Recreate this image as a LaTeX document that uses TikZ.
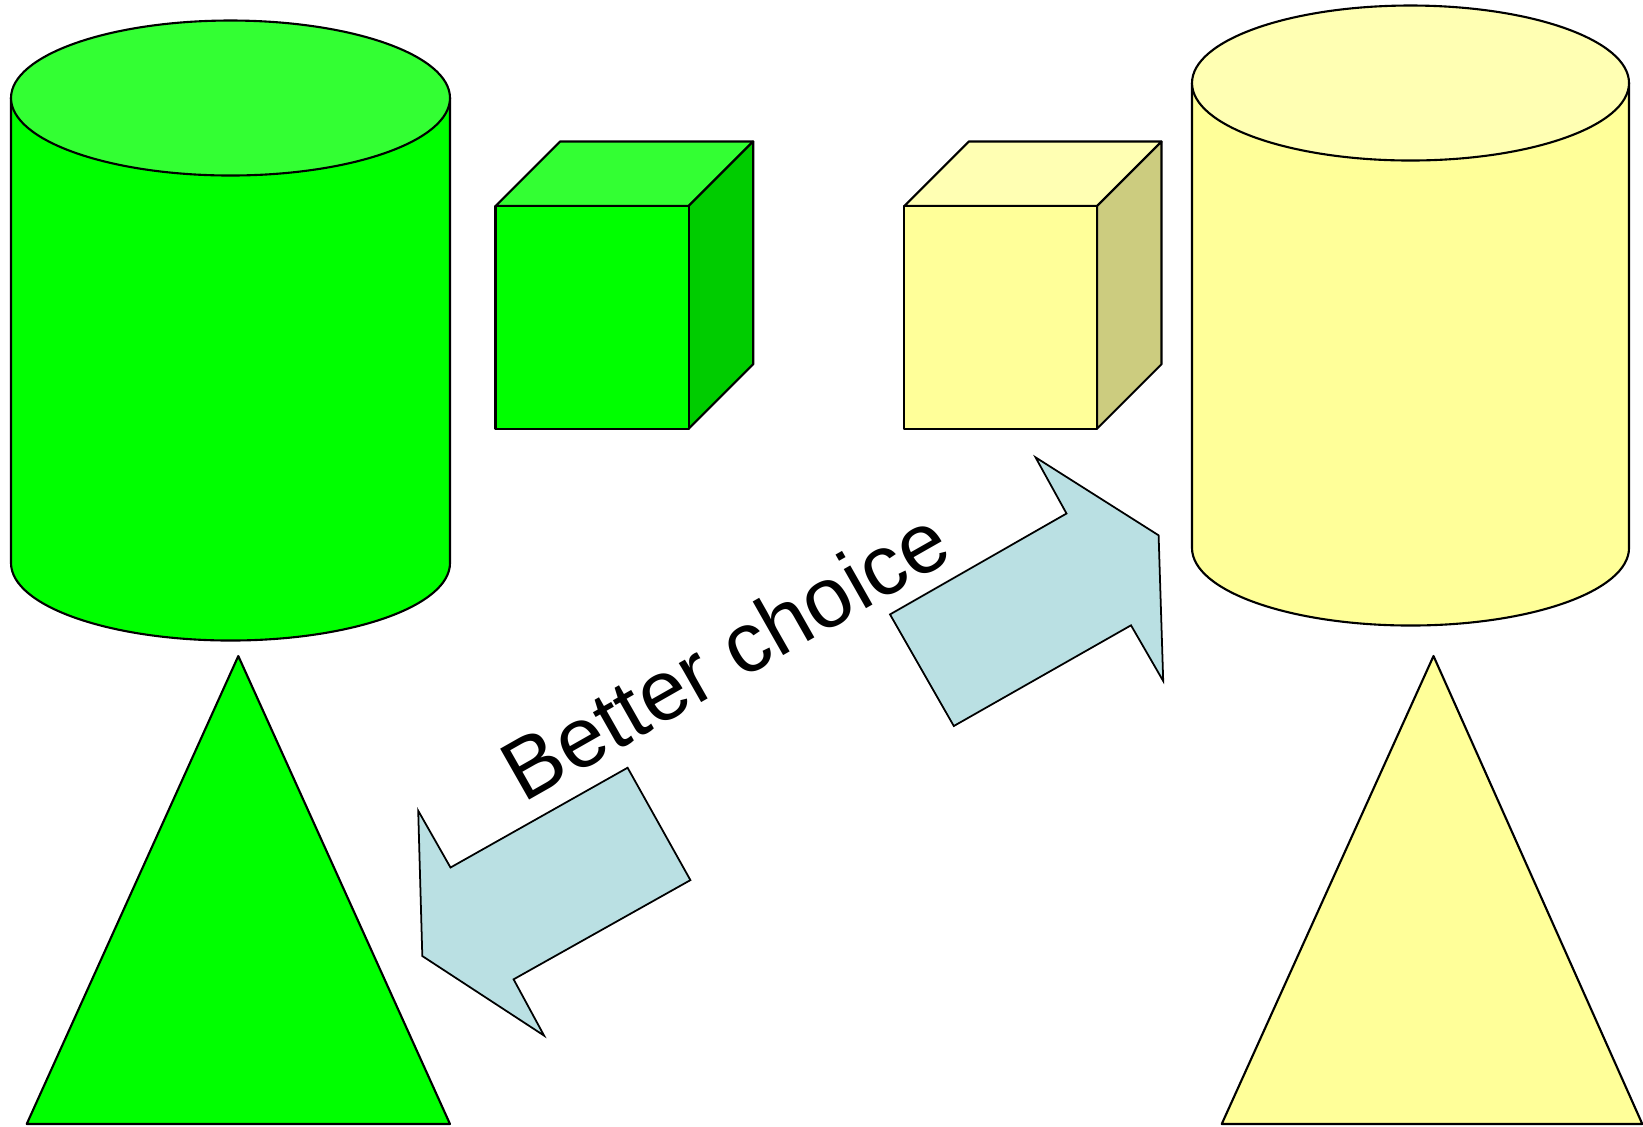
\documentclass[tikz,border=0pt]{standalone}
\usepackage{fontspec}
\setmainfont{Liberation Sans}
\usepackage{tikz}
\usepackage{xcolor}

\definecolor{grnside}{HTML}{00FF00}
\definecolor{grntop}{HTML}{33FF33}
\definecolor{grndark}{HTML}{00CC00}
\definecolor{ylwside}{HTML}{FFFF99}
\definecolor{ylwtop}{HTML}{FFFFB3}
\definecolor{ylwdark}{HTML}{CCCC7F}
\definecolor{arrowblue}{HTML}{BAE0E3}

\begin{document}
\begin{tikzpicture}[
    x=0.01cm, y=-0.01cm,
    line width=0.6pt,
    face/.style={draw=black, fill=#1, line join=round},
    face/.default=white,
    bigarrow/.style={draw=black, fill=arrowblue, line width=0.5pt, line join=miter}
]
    \useasboundingbox (0,0) rectangle (1643,1126);

    % Coordinates
    \coordinate (gcyl_tl) at (11, 98);
    \coordinate (gcyl_bl) at (11, 563);
    \coordinate (gcyl_top) at (230.5, 98);
    \coordinate (ycyl_tl) at (1192, 83);
    \coordinate (ycyl_bl) at (1192, 548);
    \coordinate (ycyl_top) at (1410.5, 83);

    \coordinate (gcube_a) at (495.5, 206);
    \coordinate (gcube_b) at (688.7, 206);
    \coordinate (gcube_c) at (688.7, 428.7);
    \coordinate (gcube_d) at (495.5, 428.7);
    \coordinate (ycube_a) at (904.3, 206);
    \coordinate (ycube_b) at (1097, 206);
    \coordinate (ycube_c) at (1097, 428.7);
    \coordinate (ycube_d) at (904.3, 428.7);

    % Green cylinder
    \draw[face=grnside] (gcyl_tl) -- (gcyl_bl) arc (180:0:219.5 and 77.5) -- (450, 98) -- cycle;
    \draw[face=grntop] (gcyl_top) ellipse (219.5 and 77.5);

    % Yellow cylinder
    \draw[face=ylwside] (ycyl_tl) -- (ycyl_bl) arc (180:0:218.5 and 77.5) -- (1629, 83) -- cycle;
    \draw[face=ylwtop] (ycyl_top) ellipse (218.5 and 77.5);

    % Green cube
    \draw[face=grntop] (gcube_a) -- ++(64.5,-64.5) -- ++(193.2,0) -- (gcube_b) -- cycle;
    \draw[face=grndark] (gcube_b) -- ++(64.5,-64.5) -- ++(0,222.7) -- (gcube_c) -- cycle;
    \draw[face=grnside] (gcube_a) rectangle (gcube_c);

    % Yellow cube
    \draw[face=ylwtop] (ycube_a) -- ++(64.5,-64.5) -- ++(192.7,0) -- (ycube_b) -- cycle;
    \draw[face=ylwdark] (ycube_b) -- ++(64.5,-64.5) -- ++(0,222.7) -- (ycube_c) -- cycle;
    \draw[face=ylwside] (ycube_a) rectangle (ycube_c);

    % Triangles
    \draw[face=grnside] (26.7, 1124) -- (238.3, 656) -- (450, 1124) -- cycle;
    \draw[face=ylwside] (1221.7, 1124) -- (1433.5, 656) -- (1642.3, 1124) -- cycle;

    % Arrows
    \draw[bigarrow] (890, 614.4) -- (1066.5, 513.5) -- (1035.5, 457.3) -- (1158.6, 535.3)
        -- (1163.2, 681) -- (1131, 625.3) -- (953.8, 726) -- cycle;
    \draw[bigarrow] (627.6, 767.7) -- (690.4, 880.1) -- (513.6, 979.3) -- (544.1, 1035.6)
        -- (422.3, 956) -- (418.2, 810.7) -- (450.5, 867.5) -- cycle;

    % Label
    \node[rotate=29.6, anchor=base west, inner sep=0pt,
          font=\fontsize{24.2}{29}\selectfont] (choice) at (523, 804) {Better choice};

\end{tikzpicture}
\end{document}
